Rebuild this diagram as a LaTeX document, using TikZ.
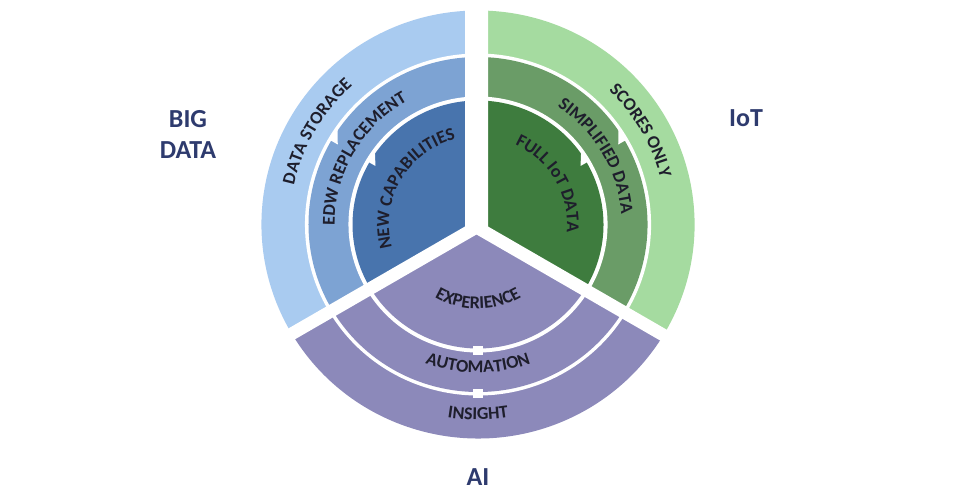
\documentclass[tikz,border=0pt]{standalone}
\usepackage{fontspec}
\setmainfont{Carlito}
\usetikzlibrary{calc,decorations.text}
\definecolor{blueA}{HTML}{A9CBF0}
\definecolor{blueB}{HTML}{7DA3D3}
\definecolor{blueC}{HTML}{4874AD}
\definecolor{greenA}{HTML}{A5DBA0}
\definecolor{greenB}{HTML}{6A9C67}
\definecolor{greenC}{HTML}{3E7C3E}
\definecolor{purp}{HTML}{8C89BA}
\definecolor{ringtext}{HTML}{1E1E2C}
\definecolor{labelc}{HTML}{2E3B6E}
\newcommand\mypie[4]{\fill[#1] (0,0) -- ++(#2:#4) arc[start angle=#2,end angle=#3,radius=#4] -- cycle;}
\newcommand\ringfont{\fontsize{18}{18}\selectfont\bfseries\color{ringtext}}
\tikzset{
  biglabel/.style={font=\fontsize{26}{31}\selectfont\bfseries, text=labelc, inner sep=0pt, align=center},
  ringlabel/.style={decorate, decoration={text along path, text align=center, text={|\ringfont|#1}}}
}
\begin{document}
\begin{tikzpicture}[x=1pt,y=1pt]
\useasboundingbox (0,0) rectangle (966,500);
\fill[white] (0,0) rectangle (966,500);
\coordinate (C) at (478,275.5);
\begin{scope}[shift={(C)}, xscale=1.012]
% Big data sector
\mypie{blueA}{90}{210}{214}
\mypie{white}{90}{210}{171}
\mypie{blueB}{90}{210}{167.5}
\mypie{white}{90}{210}{128}
\mypie{blueC}{90}{210}{124}
% IoT sector
\mypie{greenA}{-30}{90}{214}
\mypie{white}{-30}{90}{171}
\mypie{greenB}{-30}{90}{167.5}
\mypie{white}{-30}{90}{128}
\mypie{greenC}{-30}{90}{124}
% AI sector
\mypie{purp}{210}{330}{214}
\mypie{white}{210}{330}{171}
\mypie{purp}{210}{330}{167.5}
\mypie{white}{210}{330}{128}
\mypie{purp}{210}{330}{124}
\end{scope}
% separators
\fill[white] (465,510) -- (465,273.5) -- (179.2,108.5) -- (190.7,100.5) -- (476.5,265.5)
  -- (762.3,100.5) -- (773.8,108.5) -- (488,273.5) -- (488,510) -- cycle;
\begin{scope}[shift={(C)}, xscale=1.012]
% notches
\fill[white] (150:169.5) -- (150:160) -- (145:169.5) -- cycle;
\fill[white] (150:126) -- (150:117) -- (144:126) -- cycle;
\fill[white] (30:169.5) -- (30:160) -- (35:169.5) -- cycle;
\fill[white] (30:126) -- (30:117) -- (36:126) -- cycle;
\fill[white] (-4.5,-130.5) rectangle (4.5,-121.5);
\fill[white] (-4.5,-174) rectangle (4.5,-165);
% ring texts
\path[ringlabel={DATA STORAGE}] (215:186) arc[start angle=215,end angle=85,radius=186];
\path[ringlabel={EDW REPLACEMENT}] (215:141.7) arc[start angle=215,end angle=85,radius=141.7];
\path[ringlabel={NEW CAPABILITIES}] (225:88) arc[start angle=225,end angle=75,radius=88];
\path[ringlabel={SCORES ONLY}] (95:186) arc[start angle=95,end angle=-35,radius=186];
\path[ringlabel={SIMPLIFIED DATA}] (95:141.7) arc[start angle=95,end angle=-35,radius=141.7];
\path[ringlabel={FULL IoT DATA}] (105:88) arc[start angle=105,end angle=-45,radius=88];
\path[ringlabel={EXPERIENCE}] (200:84.3) arc[start angle=200,end angle=340,radius=84.3];
\path[ringlabel={AUTOMATION}] (200:148.3) arc[start angle=200,end angle=340,radius=148.3];
\path[ringlabel={INSIGHT}] (200:195.3) arc[start angle=200,end angle=340,radius=195.3];
\end{scope}
% big labels
\node[biglabel] (bigdata) at (188,366) {BIG\\DATA};
\node[biglabel] (iot) at (746,382) {IoT};
\node[biglabel] (ai) at (478,23) {AI};
\end{tikzpicture}
\end{document}
